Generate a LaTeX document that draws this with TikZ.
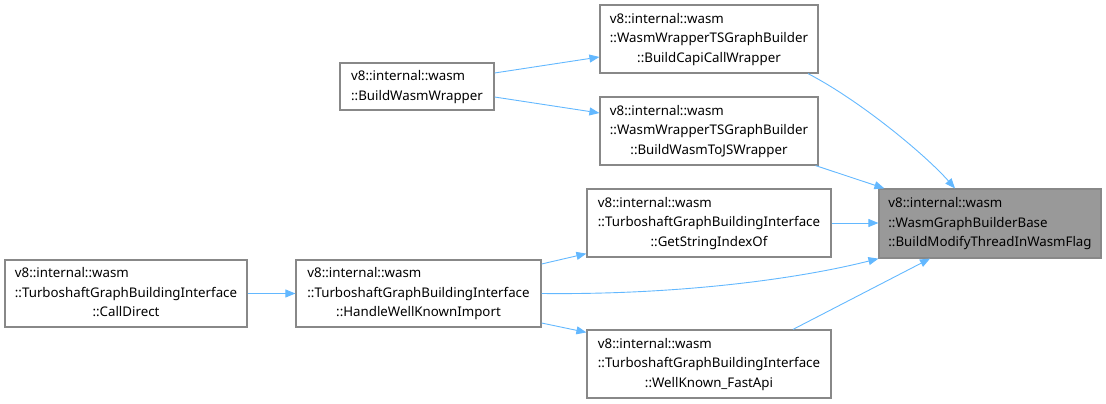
\documentclass[tikz,border=0pt]{standalone}
\usepackage{fontspec}
\setmainfont{Noto Sans}
\usetikzlibrary{arrows.meta,calc}
\definecolor{edgeblue}{HTML}{63B8FF}
\definecolor{boxborder}{HTML}{888888}
\definecolor{tgtfill}{HTML}{999999}
\newcommand{\lblthree}[3]{\begin{tabular}{@{}l@{}}#1\\#2\\\multicolumn{1}{@{}c@{}}{#3}\end{tabular}}
\newcommand{\lbltwo}[2]{\begin{tabular}{@{}l@{}}#1\\\multicolumn{1}{@{}c@{}}{#2}\end{tabular}}
\begin{document}
\begin{tikzpicture}[x=1pt,y=-1pt,
  box/.style={draw=boxborder,line width=1.2pt,fill=white,inner sep=0pt,
    font=\fontsize{13.3}{19.5}\selectfont},
  tgtbox/.style={box,fill=tgtfill},
  edge/.style={draw=edgeblue,line width=0.9pt,-{Triangle[length=10pt,width=8pt]}}]
\useasboundingbox (0,0) rectangle (1106,404);
\node[tgtbox,minimum width=222pt,minimum height=69pt] (tgt) at (990,223.5)
  {\lblthree{v8::internal::wasm}{::WasmGraphBuilderBase}{::BuildModifyThreadInWasmFlag}};
\node[box,minimum width=218pt,minimum height=68pt] (capi) at (709,39)
  {\lblthree{v8::internal::wasm}{::WasmWrapperTSGraphBuilder}{::BuildCapiCallWrapper}};
\node[box,minimum width=218pt,minimum height=68pt] (tojs) at (709,131)
  {\lblthree{v8::internal::wasm}{::WasmWrapperTSGraphBuilder}{::BuildWasmToJSWrapper}};
\node[box,minimum width=154pt,minimum height=47pt] (bww) at (417,86.5)
  {\lbltwo{v8::internal::wasm}{::BuildWasmWrapper}};
\node[box,minimum width=244pt,minimum height=68pt] (gsio) at (709,223)
  {\lblthree{v8::internal::wasm}{::TurboshaftGraphBuildingInterface}{::GetStringIndexOf}};
\node[box,minimum width=245pt,minimum height=67pt] (hwki) at (418.5,293.5)
  {\lblthree{v8::internal::wasm}{::TurboshaftGraphBuildingInterface}{::HandleWellKnownImport}};
\node[box,minimum width=242pt,minimum height=67pt] (cd) at (126,293.5)
  {\lblthree{v8::internal::wasm}{::TurboshaftGraphBuildingInterface}{::CallDirect}};
\node[box,minimum width=244pt,minimum height=68pt] (wkfa) at (709,364)
  {\lblthree{v8::internal::wasm}{::TurboshaftGraphBuildingInterface}{::WellKnown\_FastApi}};

\draw[edge] ([yshift=13.5pt]bww.east) -- ([yshift=-18pt]capi.west);
\draw[edge] ([yshift=-10.5pt]bww.east) -- ([yshift=18pt]tojs.west);
\draw[edge] ([xshift=99pt]capi.south) .. controls +(52,27) and +(-30,-34) .. ([xshift=-35pt]tgt.north);
\draw[edge] ([xshift=-3pt]tojs.south east) -- ([xshift=6pt]tgt.north west);
\draw[edge] (gsio.east) -- (gsio.east -| tgt.west);
\draw[edge] ([yshift=29.5pt]hwki.east) -- ([yshift=4pt]gsio.south west);
\draw[edge] (hwki.east) .. controls +(139,1.5) and +(-79,20) .. (tgt.south west);
\draw[edge] ([yshift=-29.5pt]hwki.east) -- ([yshift=-3pt]wkfa.north west);
\draw[edge] ([xshift=84pt]wkfa.north) -- ([xshift=-60pt]tgt.south);
\draw[edge] (cd.east) -- (hwki.west);
\end{tikzpicture}
\end{document}
